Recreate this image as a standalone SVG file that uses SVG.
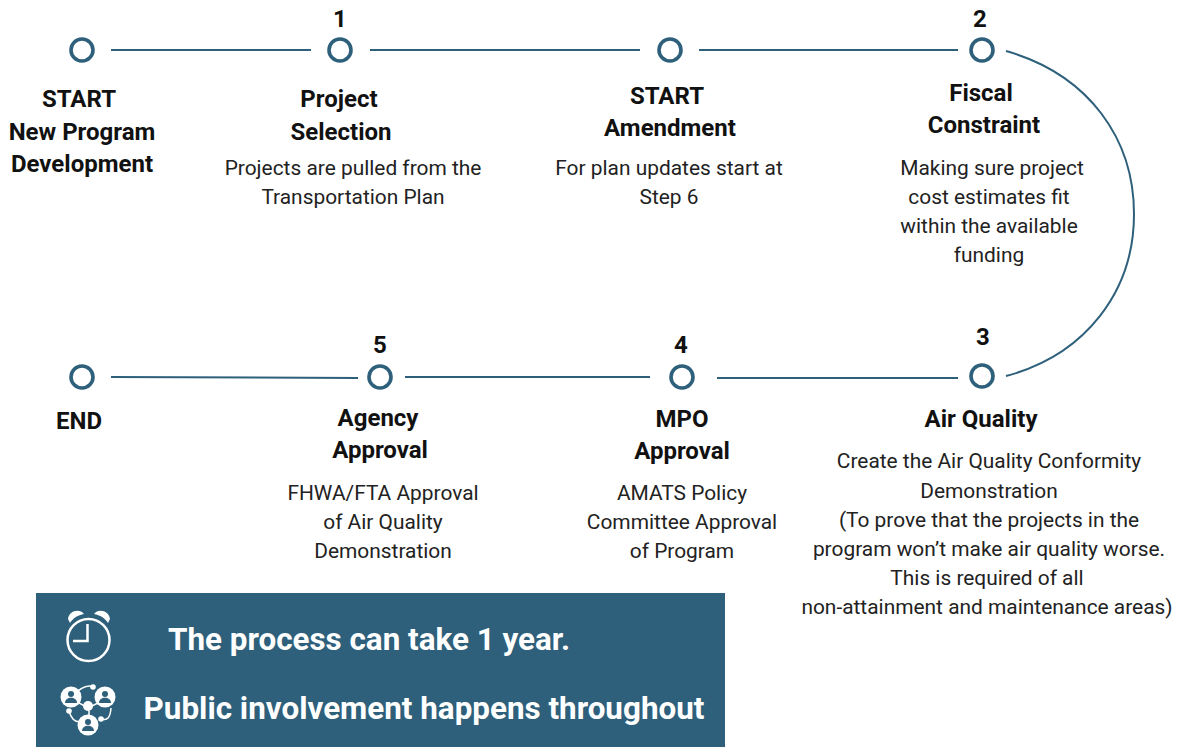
<svg xmlns="http://www.w3.org/2000/svg" width="1179" height="747" viewBox="0 0 1179 747">
<style>
text{font-family:Roboto,"Liberation Sans",sans-serif;text-anchor:middle;fill:#111}
.t{font-size:24px;font-weight:700}
.n{font-size:24px;font-weight:700}
.d{font-size:20.900px;font-weight:400;fill:#222}
.c{fill:#fff;stroke:#2e607b;stroke-width:3.6}
.l{fill:none;stroke:#2e607b;stroke-width:2}
.w{font-size:31.400px;font-weight:700;fill:#fff}
.i{fill:none;stroke:#fff;stroke-width:2.5}
.f{fill:#fff}
.b{fill:#2e607b}
</style>
<g id="connectors">
<path class="l" d="M111 50H311"/>
<path class="l" d="M370 50H640"/>
<path class="l" d="M699 50H958"/>
<path class="l" d="M1006 51C1090 75 1134 140 1134 214C1134 292 1085 355 1006 376"/>
<path class="l" d="M111 377L358 378"/>
<path class="l" d="M405 377H650"/>
<path class="l" d="M717 378H958"/>
</g>
<g id="node-start"><circle class="c" cx="82" cy="50" r="11"/><text class="t" x="79" y="107">START</text><text class="t" x="82" y="140">New Program</text><text class="t" x="82" y="172">Development</text></g>
<g id="node-1"><circle class="c" cx="340" cy="50" r="11"/><text class="n" x="340" y="27">1</text><text class="t" x="339" y="107">Project</text><text class="t" x="341" y="140">Selection</text><text class="d" x="353" y="175">Projects are pulled from the</text><text class="d" x="353" y="204">Transportation Plan</text></g>
<g id="node-amend"><circle class="c" cx="670" cy="50" r="11"/><text class="t" x="667" y="104">START</text><text class="t" x="670" y="136">Amendment</text><text class="d" x="669" y="175">For plan updates start at</text><text class="d" x="669" y="204">Step 6</text></g>
<g id="node-2"><circle class="c" cx="982" cy="50" r="11"/><text class="n" x="980" y="27">2</text><text class="t" x="981" y="101">Fiscal</text><text class="t" x="984" y="133">Constraint</text><text class="d" x="992" y="175">Making sure project</text><text class="d" x="989" y="204">cost estimates fit</text><text class="d" x="989" y="233">within the available</text><text class="d" x="989" y="262">funding</text></g>
<g id="node-3"><circle class="c" cx="982" cy="376" r="11"/><text class="n" x="983" y="345">3</text><text class="t" x="981" y="427">Air Quality</text><text class="d" x="989" y="468">Create the Air Quality Conformity</text><text class="d" x="989" y="498">Demonstration</text><text class="d" x="989" y="527">(To prove that the projects in the</text><text class="d" x="989" y="556">program won’t make air quality worse.</text><text class="d" x="987" y="585">This is required of all</text><text class="d" x="987" y="614">non-attainment and maintenance areas)</text></g>
<g id="node-4"><circle class="c" cx="682" cy="377" r="11"/><text class="n" x="681" y="353">4</text><text class="t" x="682" y="427">MPO</text><text class="t" x="682" y="459">Approval</text><text class="d" x="682" y="500">AMATS Policy</text><text class="d" x="682" y="529">Committee Approval</text><text class="d" x="682" y="558">of Program</text></g>
<g id="node-5"><circle class="c" cx="380" cy="377" r="11"/><text class="n" x="380" y="353">5</text><text class="t" x="378" y="426">Agency</text><text class="t" x="380" y="458">Approval</text><text class="d" x="383" y="500">FHWA/FTA Approval</text><text class="d" x="383" y="529">of Air Quality</text><text class="d" x="383" y="558">Demonstration</text></g>
<g id="node-end"><circle class="c" cx="82" cy="377" r="11"/><text class="t" x="79" y="429">END</text></g>
<g id="banner">
<rect class="b" x="36" y="593" width="689" height="154"/>
<circle class="i" cx="88.500" cy="640" r="21"/>
<path class="i" d="M87.500 624V641H73"/>
<path class="f" d="M68 619C69 612 76 609 82 612L84 614C78 615 73 618 70 623Z"/>
<path class="f" d="M110 619C109 612 102 609 96 612L94 614C100 615 105 618 108 623Z"/>
<text class="w" x="369" y="650">The process can take 1 year.</text>
<text class="w" x="424" y="719">Public involvement happens throughout</text>
<path d="M71 697Q85 683 93 687M104 700L88 708L70 698M89 708V722M111 708Q110 722 102 719M69 711Q72 722 80 722" fill="none" stroke="#fff" stroke-width="1.500"/>
<circle class="f" cx="71" cy="697" r="10.500"/><circle class="f" cx="105" cy="697" r="10.500"/><circle class="f" cx="88" cy="725" r="10.500"/><circle class="f" cx="88" cy="706" r="5"/><circle class="f" cx="93" cy="687" r="2.800"/><circle class="f" cx="69" cy="711" r="2.800"/><circle class="f" cx="101" cy="719" r="2.800"/>
<g class="b"><circle cx="71" cy="694" r="3"/><path d="M65 703C65 696 77 696 77 703Z"/><circle cx="105" cy="694" r="3"/><path d="M99 703C99 696 111 696 111 703Z"/><circle cx="88" cy="722" r="3"/><path d="M82 731C82 724 94 724 94 731Z"/></g>
</g>
</svg>
